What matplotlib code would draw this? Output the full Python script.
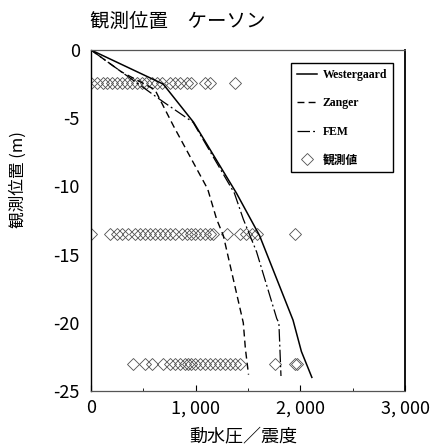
#coding=utf-8
import matplotlib
matplotlib.use('Agg')
import matplotlib.pyplot as plt

plt.rcParams['font.family'] = ['Noto Sans CJK JP', 'DejaVu Sans']

# 解析値 (深さ m, 動水圧/震度)
west_depth = [0, -2.5, -5.3, -10.5, -13.6, -19.8, -22.1, -24.0]
west_value = [0, 690, 980, 1390, 1610, 1930, 2010, 2110]

zanger_depth = [0, -1.6, -2.9, -5.6, -10.2, -12.4, -13.6, -20.0, -21.9, -23.8]
zanger_value = [0, 290, 610, 790, 1115, 1200, 1264, 1455, 1475, 1505]

fem_depth = [0, -3.8, -5.3, -10.5, -12.4, -14.8, -19.7, -20.0, -23.9]
fem_value = [0, 690, 975, 1370, 1455, 1582, 1775, 1795, 1815]

# 観測値 (3 深度)
obs_depth = [-2.45, -13.5, -23.0]
obs_row1 = [0, 60, 110, 150, 200, 250, 300, 340, 390, 440, 490, 530, 580, 630,
            680, 750, 800, 850, 920, 960, 1090, 1140, 1380]
obs_row2 = [0, 180, 250, 300, 350, 420, 470, 520, 560, 610, 660, 710, 750, 800,
            870, 920, 960, 990, 1040, 1090, 1140, 1170, 1300, 1420, 1480, 1540,
            1590, 1950]
obs_row3 = [400, 520, 580, 690, 750, 800, 850, 900, 930, 960, 990, 1040, 1090,
            1140, 1180, 1230, 1280, 1330, 1380, 1420, 1760, 1950, 1970]

xticks = [0, 1000, 2000, 3000]
xtick_labels = ['0', '1, 000', '2, 000', '3, 000']
yticks = [0, -5, -10, -15, -20, -25]
ytick_labels = ['0', '-5', '-10', '-15', '-20', '-25']

num_font = ['Liberation Sans Narrow', 'Noto Sans CJK JP', 'DejaVu Sans']
leg_font = ['Liberation Serif', 'Noto Sans CJK JP']


def draw():
    fig = plt.figure(figsize=(4.34, 4.48), dpi=100)
    ax = fig.add_axes([0.2097, 0.1272, 0.7235, 0.7612])

    for i, row in enumerate([obs_row1, obs_row2, obs_row3]):
        ax.plot(row, [obs_depth[i]] * len(row), 'D', mfc='none', mec='#505050',
                ms=6.2, mew=0.6, ls='none', label='観測値' if i == 0 else None)

    ax.plot(west_value, west_depth, '-', color='k', lw=1.1, label='Westergaard')
    ax.plot(zanger_value, zanger_depth, color='k', lw=1.0, ls=(0, (5, 3)),
            label='Zanger')
    ax.plot(fem_value, fem_depth, color='k', lw=0.9, ls=(0, (10, 2.5, 1.5, 2.5)),
            label='FEM')

    ax.set_xlim(0, 3000)
    ax.set_ylim(-25, 0)
    ax.set_xticks(xticks)
    ax.set_xticklabels(xtick_labels, family=num_font, fontsize=13)
    ax.set_yticks(yticks)
    ax.set_yticklabels(ytick_labels, family=num_font, fontsize=13)
    ax.set_xticks([500, 1500, 2500], minor=True)
    ax.tick_params(axis='x', which='major', direction='in', length=4, pad=6)
    ax.tick_params(axis='x', which='minor', direction='in', length=2)
    ax.tick_params(axis='y', direction='in', length=0, pad=8)

    ax.spines['left'].set_linewidth(1.0)
    ax.spines['right'].set_linewidth(1.3)
    for s in ['top', 'bottom']:
        ax.spines[s].set_linewidth(0.9)
        ax.spines[s].set_color('#555555')
        ax.spines[s].set_linestyle((0, (3, 1)))

    h, l = ax.get_legend_handles_labels()
    order = ['Westergaard', 'Zanger', 'FEM', '観測値']
    hs = [h[l.index(k)] for k in order]
    leg = ax.legend(hs, order, loc='upper right', bbox_to_anchor=(0.962, 0.962),
                    prop={'family': leg_font, 'size': 8.5, 'weight': 'bold'},
                    fancybox=False, framealpha=1, edgecolor='k',
                    handlelength=1.7, labelspacing=1.4, borderpad=0.5,
                    handletextpad=0.5, borderaxespad=0)
    leg.get_frame().set_linewidth(1.0)

    fig.text(90 / 434, 1 - 21 / 448, '観測位置　ケーソン', fontsize=14,
             ha='left', va='center')
    fig.text(243 / 434, 1 - 436 / 448, '動水圧／震度', fontsize=13,
             ha='center', va='center')
    fig.text(18 / 434, 1 - 180 / 448, '観測位置 (m)', fontsize=12,
             rotation=90, ha='center', va='center')

    fig.savefig('out.png', dpi=100)


if __name__ == "__main__":
    draw()
